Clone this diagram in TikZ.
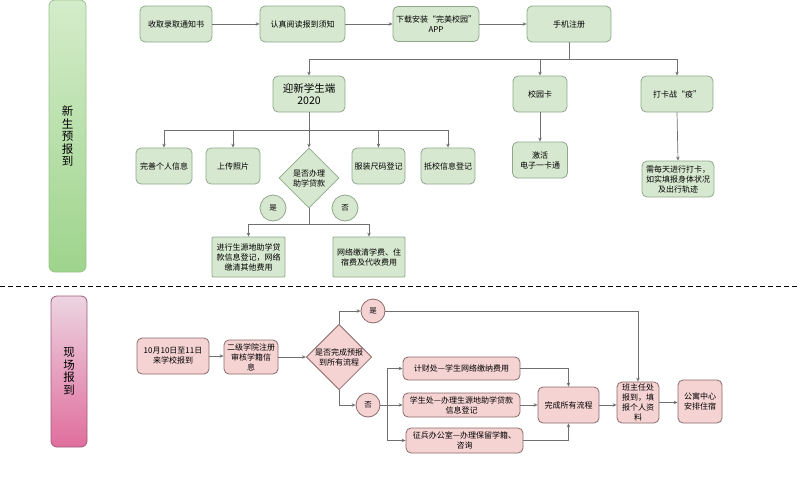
\documentclass[tikz,border=0pt]{standalone}
\usepackage{fontspec}
\setmainfont{Noto Sans CJK SC}
\usetikzlibrary{arrows.meta,shapes.geometric,calc}
\definecolor{gfill}{HTML}{D7E8D0}
\definecolor{gline}{HTML}{8FA88A}
\definecolor{pfill}{HTML}{F6D3D3}
\definecolor{pline}{HTML}{8A6A6A}
\definecolor{conn}{HTML}{707070}
\definecolor{lgtop}{HTML}{D4ECCA}
\definecolor{lgbot}{HTML}{9ED48C}
\definecolor{lgline}{HTML}{9CC48E}
\definecolor{lptop}{HTML}{ECD4E0}
\definecolor{lpbot}{HTML}{E06E9E}
\definecolor{lpline}{HTML}{A05A7D}
\tikzset{
  gbox/.style={draw=gline,fill=gfill,rounded corners=5pt,line width=0.8pt,align=center,font=\fontsize{8}{10}\selectfont,inner sep=1pt},
  pbox/.style={draw=pline,fill=pfill,rounded corners=5pt,line width=0.8pt,align=center,font=\fontsize{8}{10}\selectfont,inner sep=1pt},
  gdia/.style={diamond,draw=gline,fill=gfill,line width=0.8pt,align=center,font=\fontsize{8}{10}\selectfont,inner sep=0pt,minimum width=60pt,minimum height=60pt},
  pdia/.style={diamond,draw=pline,fill=pfill,line width=0.8pt,align=center,font=\fontsize{8}{10}\selectfont,inner sep=0pt,minimum width=60pt,minimum height=60pt},
  gcirc/.style={circle,draw=gline,fill=gfill,line width=0.8pt,font=\fontsize{7.5}{9}\selectfont,inner sep=0pt,minimum size=26pt},
  pcirc/.style={circle,draw=pline,fill=pfill,line width=0.8pt,font=\fontsize{7.5}{9}\selectfont,inner sep=0pt,minimum size=24pt},
  lanelab/.style={rounded corners=6pt,line width=0.8pt,align=center,font=\fontsize{11.5}{12.5}\selectfont},
  conline/.style={draw=conn,line width=0.7pt},
  arr/.style={conline,-{Stealth[length=4pt,width=3.5pt]}},
}
\begin{document}
\begin{tikzpicture}[x=1pt,y=-1pt]
\useasboundingbox (0,0) rectangle (800,479);
% lane labels
\node[lanelab,draw=lgline,top color=lgtop,bottom color=lgbot,minimum width=37pt,minimum height=272pt] (lane1) at (67.5,136) {新\\生\\预\\报\\到};
\node[lanelab,draw=lpline,top color=lptop,bottom color=lpbot,minimum width=36pt,minimum height=151pt] (lane2) at (69,371.5) {现\\场\\报\\到};
\draw[dashed,dash pattern=on 5pt off 3pt,line width=1pt,black] (0,286) -- (800,286);

% top row
\node[gbox,minimum width=72pt,minimum height=36pt] (n1) at (176,24) {收取录取通知书};
\node[gbox,minimum width=85pt,minimum height=36pt] (n2) at (302.5,24) {认真阅读报到须知};
\node[gbox,minimum width=86pt,minimum height=35pt] (n3) at (436,24) {下载安装“完美校园”\\APP};
\node[gbox,minimum width=84pt,minimum height=36pt] (n4) at (569,24) {手机注册};
\node[gbox,minimum width=72pt,minimum height=36pt,font=\fontsize{10.5}{12.5}\selectfont] (yx) at (309,94) {迎新学生端\\2020};
\node[gbox,minimum width=54pt,minimum height=36pt] (xyk) at (540,94) {校园卡};
\node[gbox,minimum width=72pt,minimum height=36pt] (dk) at (677,94) {打卡战“疫”};
\node[gbox,minimum width=55pt,minimum height=36pt] (jh) at (540,160) {激活\\电子一卡通};
\node[gbox,minimum width=72pt,minimum height=36pt] (mt) at (678,179) {需每天进行打卡，\\如实填报身体状况\\及出行轨迹};

% third row
\node[gbox,minimum width=56pt,minimum height=36pt] (a1) at (164,166) {完善个人信息};
\node[gbox,minimum width=54pt,minimum height=36pt] (a2) at (233,166) {上传照片};
\node[gdia] (dia) at (309,178) {是否办理\\助学贷款};
\node[gbox,minimum width=53pt,minimum height=36pt] (a4) at (378.5,166) {服装尺码登记};
\node[gbox,minimum width=54pt,minimum height=36pt] (a5) at (448,166) {抵校信息登记};
\node[gcirc] (yes1) at (273,208) {是};
\node[gcirc] (no1) at (345,208) {否};
\node[gbox,rounded corners=1pt,minimum width=73pt,minimum height=40pt] (b1) at (248.5,257) {进行生源地助学贷\\款信息登记，网络\\缴清其他费用};
\node[gbox,rounded corners=1pt,minimum width=72pt,minimum height=40pt] (b2) at (369,257) {网络缴清学费、住\\宿费及代收费用};

% lane 2
\node[pbox,minimum width=72pt,minimum height=36pt] (c1) at (173,356) {10月10日至11日\\来学校报到};
\node[pbox,minimum width=54pt,minimum height=34pt] (c2) at (251,357) {二级学院注册\\审核学籍信\\息};
\node[pdia] (dia2) at (339,357) {是否完成预报\\到所有流程};
\node[pcirc] (yes2) at (373,311) {是};
\node[pcirc] (no2) at (368,405) {否};
\node[pbox,minimum width=117pt,minimum height=23pt] (d1) at (461.5,368.5) {计财处—学生网络缴纳费用};
\node[pbox,minimum width=117pt,minimum height=24pt] (d2) at (461.5,405) {学生处—办理生源地助学贷款\\信息登记};
\node[pbox,minimum width=117pt,minimum height=25pt] (d3) at (464.5,440.5) {征兵办公室—办理保留学籍、\\咨询};
\node[pbox,minimum width=61pt,minimum height=36pt] (e1) at (568.5,405) {完成所有流程};
\node[pbox,minimum width=42pt,minimum height=41pt] (e2) at (638,402.5) {班主任处\\报到，填\\报个人资\\料};
\node[pbox,minimum width=44pt,minimum height=43pt] (e3) at (700,401.5) {公寓中心\\安排住宿};

% connectors top
\draw[arr] (n1) -- (n2);
\draw[arr] (n2) -- (n3);
\draw[arr] (n3) -- (n4);
\coordinate (j1) at (569,59);
\draw[conline] (n4.south) -- (j1);
\draw[arr] (j1) -| (yx.north);
\draw[arr] (j1) -| (xyk.north);
\draw[arr] (j1) -| (dk.north);
\coordinate (j2) at (309,130);
\draw[conline] (yx.south) -- (j2);
\draw[arr] (j2) -| (a1.north);
\draw[arr] (j2) -| (a2.north);
\draw[arr] (j2) -- (dia.north);
\draw[arr] (j2) -| (a4.north);
\draw[arr] (j2) -| (a5.north);
\coordinate (j3) at (309,224);
\draw[conline] (dia.south) -- (j3);
\draw[arr] (j3) -| (b1.north);
\draw[arr] (j3) -| (b2.north);
\draw[arr] (xyk.south) -- (jh.north);
\draw[arr] (dk.south) -- (mt.north);

% connectors lane 2
\draw[arr] (c1) -- (c2.west |- c1);
\draw[arr] (c2) -- (dia2.west);
\draw[arr] (dia2.north) |- (yes2.west);
\draw[arr] (dia2.south) |- (no2.west);
\draw[arr] (yes2.east) -| (e2.north);
\coordinate (j4) at (387,405);
\draw[conline] (no2.east) -- (j4);
\draw[arr] (j4) |- (d1.west);
\draw[arr] (j4) -- (d2.west);
\draw[arr] (j4) |- (d3.west);
\draw[arr] (d1.east) -| (e1.north);
\draw[arr] (d2.east) -- (e1.west);
\draw[arr] (d3.east) -| (e1.south);
\draw[arr] (e1.east) -- (e1.east -| e2.west);
\draw[arr] (e2.east) -- (e2.east -| e3.west);
\end{tikzpicture}
\end{document}
